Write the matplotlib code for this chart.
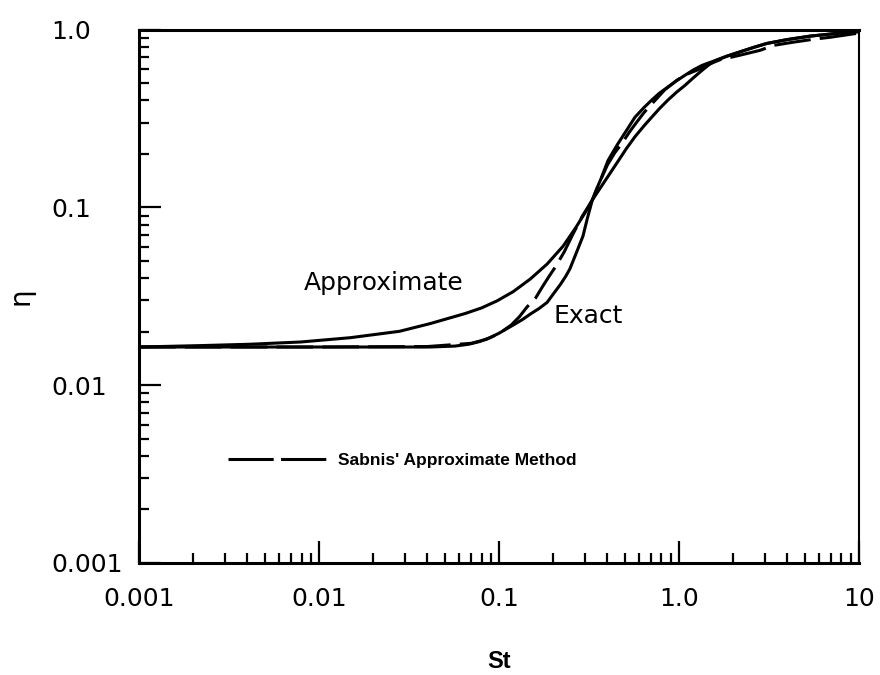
import matplotlib
matplotlib.use("Agg")
import matplotlib.pyplot as plt
from matplotlib.ticker import LogLocator, NullFormatter
from matplotlib.lines import Line2D

# --- data (St, eta) ---
st_exact = [0.001, 0.003, 0.01, 0.03, 0.0414, 0.057, 0.068, 0.078, 0.089, 0.1, 0.108,
            0.12, 0.135, 0.15, 0.167, 0.185, 0.2, 0.22, 0.235, 0.248, 0.27, 0.293,
            0.31, 0.321, 0.33, 0.35, 0.37, 0.403, 0.43, 0.459, 0.51, 0.57, 0.64,
            0.708, 0.78, 0.869, 0.97, 1.08, 1.2, 1.34, 1.46, 1.585, 1.85, 2.18, 2.6,
            3.08, 4.0, 5.35, 7.3, 10]
eta_exact = [0.0164, 0.0164, 0.0164, 0.0164, 0.0164, 0.0166, 0.017, 0.0176, 0.0185,
             0.0196, 0.0205, 0.0218, 0.0234, 0.0252, 0.027, 0.0292, 0.0325, 0.037,
             0.041, 0.0452, 0.056, 0.069, 0.087, 0.099, 0.110, 0.128, 0.146, 0.183,
             0.205, 0.229, 0.27, 0.322, 0.365, 0.403, 0.44, 0.476, 0.516, 0.554,
             0.593, 0.629, 0.65, 0.669, 0.71, 0.75, 0.795, 0.837, 0.88, 0.92, 0.95,
             0.975]

st_approx = [0.001, 0.00218, 0.00414, 0.0079, 0.0149, 0.028, 0.0414, 0.0648, 0.08,
             0.0975, 0.12, 0.149, 0.185, 0.227, 0.265, 0.308, 0.33, 0.39, 0.459, 0.51,
             0.57, 0.64, 0.708, 0.78, 0.869, 0.97, 1.08, 1.2, 1.34, 1.46, 1.585, 1.85,
             2.18, 2.6, 3.08, 4.0, 5.35, 7.3, 10]
eta_approx = [0.0164, 0.0167, 0.017, 0.0175, 0.0185, 0.0201, 0.0222, 0.0253, 0.0272,
              0.0298, 0.0336, 0.0395, 0.048, 0.0605, 0.076, 0.097, 0.110, 0.142, 0.182,
              0.214, 0.250, 0.288, 0.323, 0.36, 0.402, 0.445, 0.486, 0.535, 0.589,
              0.632, 0.669, 0.71, 0.75, 0.795, 0.837, 0.88, 0.92, 0.95, 0.975]

st_sabnis = [0.001, 0.01, 0.04, 0.07, 0.085, 0.1, 0.117, 0.13, 0.143, 0.16, 0.175,
             0.19, 0.205, 0.23, 0.258, 0.29, 0.33, 0.365, 0.40, 0.44, 0.482, 0.53,
             0.58, 0.64, 0.708, 0.77, 0.836, 0.975, 1.1, 1.3, 1.5, 1.69, 2.2, 2.83,
             3.33, 4.3, 5.65, 6.9, 9.5, 10]
eta_sabnis = [0.0164, 0.0164, 0.0165, 0.0172, 0.0181, 0.0195, 0.0218, 0.0243, 0.0275,
              0.031, 0.036, 0.041, 0.046, 0.056, 0.071, 0.089, 0.110, 0.141, 0.173,
              0.203, 0.229, 0.265, 0.30, 0.342, 0.383, 0.42, 0.46, 0.52, 0.56, 0.60,
              0.645, 0.677, 0.72, 0.766, 0.815, 0.85, 0.885, 0.906, 0.95, 0.955]

x_ticks = [0.001, 0.01, 0.1, 1.0, 10]
x_ticklabels = ['0.001', '0.01', '0.1', '1.0', '10']
y_ticks = [0.001, 0.01, 0.1, 1.0]
y_ticklabels = ['0.001', '0.01', '0.1', '1.0']

fig = plt.figure(figsize=(8.8, 6.75), dpi=100)
ax = fig.add_axes([0.158, 0.166, 0.818, 0.790])

lw = 2.2
ax.plot(st_exact, eta_exact, color='black', lw=lw, solid_joinstyle='round',
        solid_capstyle='round')
ax.plot(st_approx, eta_approx, color='black', lw=lw, solid_joinstyle='round',
        solid_capstyle='round')
ax.plot(st_sabnis, eta_sabnis, color='black', lw=lw, linestyle=(0, (12, 3)),
        dash_joinstyle='round')

ax.set_xscale('log')
ax.set_yscale('log')
ax.set_xlim(0.001, 10)
ax.set_ylim(0.001, 1.0)

ax.set_xticks(x_ticks)
ax.set_xticklabels(x_ticklabels)
ax.set_yticks(y_ticks)
ax.set_yticklabels(y_ticklabels)
ax.xaxis.set_minor_locator(LogLocator(base=10, subs=range(2, 10)))
ax.yaxis.set_minor_locator(LogLocator(base=10, subs=range(2, 10)))
ax.xaxis.set_minor_formatter(NullFormatter())
ax.yaxis.set_minor_formatter(NullFormatter())

ax.tick_params(which='both', direction='in', top=False, right=False, width=1.6)
ax.tick_params(which='major', length=16, labelsize=18)
ax.tick_params(which='minor', length=7)
ax.tick_params(axis='y', which='major', pad=63)
ax.tick_params(axis='x', which='major', pad=17)
for lab in ax.get_yticklabels():
    lab.set_horizontalalignment('left')

for side in ['left', 'bottom', 'top']:
    ax.spines[side].set_linewidth(2.2)
ax.spines['right'].set_linewidth(1.5)

ax.set_xlabel('St', fontsize=17, family=['Liberation Sans'], fontweight='bold')
ax.xaxis.set_label_coords(0.5, -0.163)
ax.set_ylabel('η', fontsize=20)
ax.yaxis.set_label_coords(-0.145, 0.5)

ax.text(0.340, 0.525, 'Approximate', transform=ax.transAxes, fontsize=18,
        ha='center', va='center')
ax.text(0.624, 0.463, 'Exact', transform=ax.transAxes, fontsize=18,
        ha='center', va='center')

handle = Line2D([], [], color='black', lw=lw, linestyle=(0, (14.8, 2.4)))
ax.legend([handle], ["Sabnis' Approximate Method"], loc='center left',
          bbox_to_anchor=(0.124, 0.193), frameon=False, borderpad=0,
          borderaxespad=0, handlelength=5.9, handletextpad=0.4,
          prop={'family': 'Liberation Sans', 'weight': 'bold', 'size': 12.5})

fig.savefig('out.png', dpi=100)
